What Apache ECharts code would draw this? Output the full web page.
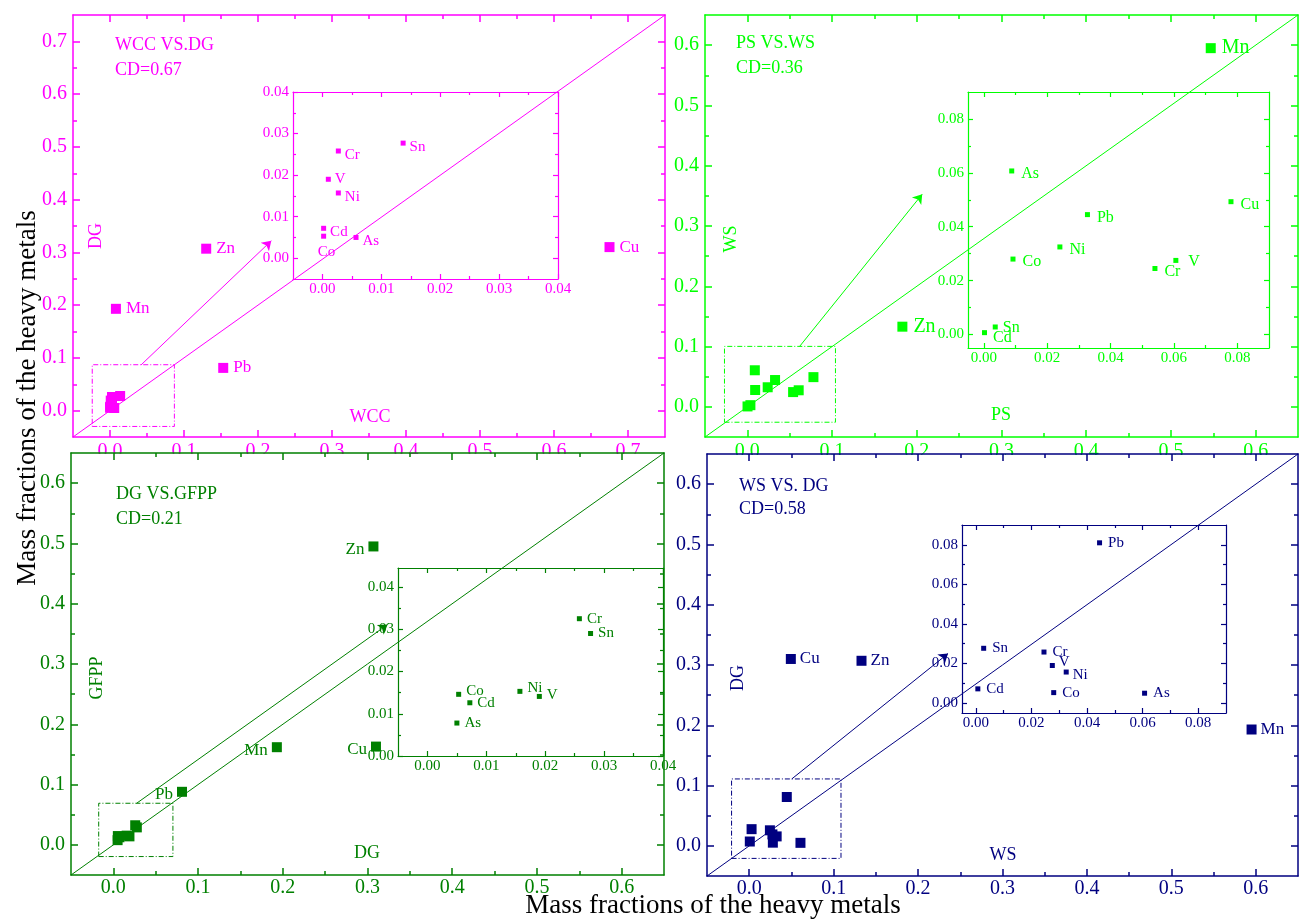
<!DOCTYPE html>
<html><head><meta charset="utf-8">
<script src="https://cdn.jsdelivr.net/npm/echarts@6/dist/echarts.min.js"></script>
<style>html,body{margin:0;padding:0;background:#fff}#c{width:1299px;height:920px}</style>
</head><body><div id="c"></div>
<script>
// ---------------- data ----------------
const elements = ['Cu', 'Zn', 'Mn', 'Pb', 'Cr', 'Ni', 'V', 'Co', 'Cd', 'As', 'Sn'];
const WCC  = [0.675, 0.130, 0.008, 0.153, 0.0027, 0.0027, 0.0010, 0.0002, 0.0002, 0.0057, 0.0137];
const DG   = [0.310, 0.307, 0.193, 0.081, 0.0258, 0.0157, 0.0190, 0.0053, 0.0072, 0.0050, 0.0277];
const PS   = [0.078, 0.183, 0.547, 0.0327, 0.0540, 0.0240, 0.0606, 0.0092, 0.0002, 0.0088, 0.0036];
const WS   = [0.0493, 0.133, 0.595, 0.0445, 0.0245, 0.0325, 0.0275, 0.0280, 0.0007, 0.0607, 0.0028];
const GFPP = [0.163, 0.495, 0.162, 0.088, 0.0325, 0.0153, 0.0141, 0.0146, 0.0126, 0.0078, 0.0290];

const panelTitles = ['WCC VS.DG', 'PS VS.WS', 'DG VS.GFPP', 'WS VS. DG'];
const cdValues = ['CD=0.67', 'CD=0.36', 'CD=0.21', 'CD=0.58'];
const xNames = ['WCC', 'PS', 'DG', 'WS'];
const yNames = ['DG', 'WS', 'GFPP', 'DG'];
const commonTitle = 'Mass fractions of the heavy metals';

const mainTicks07 = [0, 0.1, 0.2, 0.3, 0.4, 0.5, 0.6, 0.7];
const mainLabels07 = ['0.0', '0.1', '0.2', '0.3', '0.4', '0.5', '0.6', '0.7'];
const mainMinors07 = [0.05, 0.15, 0.25, 0.35, 0.45, 0.55, 0.65];
const mainTicks06 = [0, 0.1, 0.2, 0.3, 0.4, 0.5, 0.6];
const mainLabels06 = ['0.0', '0.1', '0.2', '0.3', '0.4', '0.5', '0.6'];
const mainMinors06 = [0.05, 0.15, 0.25, 0.35, 0.45, 0.55];
const insetTicks04 = [0, 0.01, 0.02, 0.03, 0.04];
const insetLabels04 = ['0.00', '0.01', '0.02', '0.03', '0.04'];
const insetMinors04 = [0.005, 0.015, 0.025, 0.035];
const insetTicks08 = [0, 0.02, 0.04, 0.06, 0.08];
const insetLabels08 = ['0.00', '0.02', '0.04', '0.06', '0.08'];
const insetMinors08 = [0.01, 0.03, 0.05, 0.07];

// ---------------- layout / style ----------------
const FONT = '"Liberation Serif", "Times New Roman", serif';
const T07 = {majors: mainTicks07, labels: mainLabels07, minors: mainMinors07};
const T06 = {majors: mainTicks06, labels: mainLabels06, minors: mainMinors06};
const I04 = {majors: insetTicks04, labels: insetLabels04, minors: insetMinors04};
const I08 = {majors: insetTicks08, labels: insetLabels08, minors: insetMinors08};

const panels = [
  { xs: WCC, ys: DG, color: '#ff00ff', z: 0, xm: 5,
    grid: {left: 73, top: 15, width: 592, height: 422}, xr: [-0.05, 0.75], yr: [-0.05, 0.75], xt: T07, yt: T07,
    inset: {grid: {left: 293, top: 92, width: 265, height: 187}, xr: [-0.005, 0.04], yr: [-0.005, 0.04], xt: I04, yt: I04},
    box: [[-0.024, -0.030], [0.087, 0.087]], arrow: [[0.042, 0.0867], [0.218, 0.322]],
    mainFs: 17, insetFs: 15, mainSize: 10,
    mainLabel: {position: 'right', distance: 5},
    insetLabel: {position: 'right', distance: 4, offset: [0, 4]},
    insetOverride: {V: {offset: [0, 0]}, Co: {position: 'bottom', distance: 6, offset: [3, 0]}},
    text: {title: [115, 45.5], cd: [115, 70], yName: [96, 236], xName: [370, 417]} },
  { xs: PS, ys: WS, color: '#00ff00', z: 0, xm: 5,
    grid: {left: 705, top: 15, width: 593, height: 422}, xr: [-0.05, 0.65], yr: [-0.05, 0.65], xt: T06, yt: T06,
    inset: {grid: {left: 968, top: 92, width: 301, height: 256}, xr: [-0.005, 0.09], yr: [-0.005, 0.09], xt: I08, yt: I08},
    box: [[-0.027, -0.0255], [0.104, 0.1003]], arrow: [[0.0617, 0.1003], [0.2064, 0.3527]],
    mainFs: 20, insetFs: 16, mainSize: 10,
    mainLabel: {position: 'right', distance: 6},
    insetLabel: {position: 'right', distance: 7, offset: [0, 3]},
    insetOverride: {V: {distance: 10, offset: [0, 1]}, Sn: {distance: 5, offset: [0, 1]}, Cd: {distance: 6, offset: [0, 5]}},
    text: {title: [736, 43.5], cd: [736, 68], yName: [731, 239], xName: [1001, 415]} },
  { xs: DG, ys: GFPP, color: '#008000', z: 10, xm: 3,
    grid: {left: 71, top: 453, width: 593, height: 422}, xr: [-0.05, 0.65], yr: [-0.05, 0.65], xt: T06, yt: T06,
    inset: {grid: {left: 398, top: 568, width: 265, height: 188}, xr: [-0.005, 0.04], yr: [0, 0.0445], xt: I04, yt: I04},
    box: [[-0.0173, -0.0194], [0.0703, 0.069]], arrow: [[0.0275, 0.069], [0.3237, 0.3654]],
    mainFs: 17, insetFs: 15, mainSize: 10,
    mainLabel: {position: 'left', distance: 4, offset: [0, 3]},
    insetLabel: {position: 'right', distance: 5, offset: [0, 0]},
    insetOverride: {Co: {offset: [0, -3]}, Ni: {offset: [0, -3]}, V: {offset: [0, -1]}},
    text: {title: [116, 494], cd: [116, 519], yName: [97, 678], xName: [367, 853]} },
  { xs: WS, ys: DG, color: '#000080', z: 10, xm: 3,
    grid: {left: 707, top: 454, width: 591, height: 422}, xr: [-0.05, 0.65], yr: [-0.05, 0.65], xt: T06, yt: T06,
    inset: {grid: {left: 962, top: 525, width: 264, height: 188}, xr: [-0.005, 0.09], yr: [-0.005, 0.09], xt: I08, yt: I08},
    box: [[-0.0209, -0.0208], [0.1087, 0.111]], arrow: [[0.0504, 0.111], [0.2355, 0.319]],
    mainFs: 17, insetFs: 15, mainSize: 10,
    mainLabel: {position: 'right', distance: 4},
    insetLabel: {position: 'right', distance: 6},
    insetOverride: {V: {distance: 4, offset: [0, -3]}, Ni: {distance: 4, offset: [0, 3]}},
    text: {title: [739, 486], cd: [739, 509], yName: [738, 678], xName: [1003, 855]} }
];

const grids = [], xAxes = [], yAxes = [], series = [], graphics = [];

function addAxes(gi, xr, yr, xt, yt, color, o) {
  const fmt = (t) => (v) => { const i = t.majors.findIndex(m => Math.abs(m - v) < 1e-9); return i >= 0 ? t.labels[i] : ''; };
  const base = (r) => ({gridIndex: gi, type: 'value', min: r[0], max: r[1], splitLine: {show: false}, z: o.z, silent: true, axisPointer: {show: false}});
  const line = {show: true, onZero: false, lineStyle: {color: color, width: o.lw}};
  const noLine = {show: false, onZero: false};
  const tick = (vals, len) => ({show: true, inside: true, length: len, customValues: vals, lineStyle: {color: color, width: o.lw}});
  const lbl = (t, m) => ({show: true, customValues: t.majors, formatter: fmt(t), color: color, fontSize: o.fs, fontFamily: FONT, margin: m});
  const off = {show: false};
  [['bottom', 'top', xr, xt, xAxes, o.xm], ['left', 'right', yr, yt, yAxes, o.ym]].forEach(([p1, p2, r, t, arr, m]) => {
    arr.push(Object.assign(base(r), {position: p1, axisLine: line, axisTick: tick(t.majors, o.maj), axisLabel: lbl(t, m)}));
    arr.push(Object.assign(base(r), {position: p1, axisLine: noLine, axisTick: tick(t.minors, o.min), axisLabel: off}));
    arr.push(Object.assign(base(r), {position: p2, axisLine: line, axisTick: tick(t.majors, o.maj), axisLabel: off}));
    arr.push(Object.assign(base(r), {position: p2, axisLine: noLine, axisTick: tick(t.minors, o.min), axisLabel: off}));
  });
}

function txt(x, y, s, color, size, rot) {
  return {type: 'text', x: x, y: y, rotation: rot || 0, z: 20, silent: true,
    style: {text: s, fill: color, font: size + 'px ' + FONT, align: rot === undefined ? 'left' : 'center', verticalAlign: 'middle',
            textAlign: rot === undefined ? 'left' : 'center', textVerticalAlign: 'middle'}};
}

panels.forEach((p, k) => {
  const gMain = 2 * k, gIn = 2 * k + 1;
  grids.push(Object.assign({outerBoundsMode: 'none', containLabel: false}, p.grid));
  grids.push(Object.assign({outerBoundsMode: 'none', containLabel: false}, p.inset.grid));
  addAxes(gMain, p.xr, p.yr, p.xt, p.yt, p.color, {z: p.z, lw: 1.5, fs: 20, maj: 7, min: 4, xm: p.xm, ym: 6});
  addAxes(gIn, p.inset.xr, p.inset.yr, p.inset.xt, p.inset.yt, p.color, {z: p.z, lw: 1.2, fs: 15, maj: 5, min: 3, xm: 3, ym: 4});
  const ax = 4 * gMain, axIn = 4 * gIn;
  const inInset = (i) => p.xs[i] <= p.inset.xr[1] && p.ys[i] <= p.inset.yr[1];

  // diagonal y = x
  series.push({type: 'line', xAxisIndex: ax, yAxisIndex: ax, data: [[p.xr[0], p.yr[0]], [p.xr[1], p.yr[1]]],
    symbol: 'none', lineStyle: {color: p.color, width: 1}, z: 12, silent: true});
  // dash-dot box
  const b = p.box;
  series.push({type: 'line', xAxisIndex: ax, yAxisIndex: ax,
    data: [[b[0][0], b[0][1]], [b[1][0], b[0][1]], [b[1][0], b[1][1]], [b[0][0], b[1][1]], [b[0][0], b[0][1]]],
    symbol: 'none', lineStyle: {color: p.color, width: 1, type: [5, 2, 1, 2]}, z: 12, silent: true});
  // arrow
  series.push({type: 'lines', coordinateSystem: 'cartesian2d', xAxisIndex: ax, yAxisIndex: ax,
    data: [{coords: p.arrow}], symbol: ['none', 'arrow'], symbolSize: 9,
    lineStyle: {color: p.color, width: 1, opacity: 1}, z: 12, silent: true});
  // main scatter
  series.push({type: 'scatter', xAxisIndex: ax, yAxisIndex: ax, symbol: 'rect', symbolSize: p.mainSize, z: 13,
    itemStyle: {color: p.color, opacity: 1},
    label: Object.assign({show: true, formatter: '{b}', color: p.color, fontSize: p.mainFs, fontFamily: FONT}, p.mainLabel),
    data: elements.map((e, i) => ({name: e, value: [p.xs[i], p.ys[i]], label: {show: !inInset(i)}}))});
  // inset scatter
  series.push({type: 'scatter', xAxisIndex: axIn, yAxisIndex: axIn, symbol: 'rect', symbolSize: 5, z: 13,
    itemStyle: {color: p.color, opacity: 1},
    label: Object.assign({show: true, formatter: '{b}', color: p.color, fontSize: p.insetFs, fontFamily: FONT}, p.insetLabel),
    data: elements.map((e, i) => ({name: e, value: [p.xs[i], p.ys[i]], i: i})).filter(d => inInset(d.i))
      .map(d => ({name: d.name, value: d.value, label: Object.assign({show: true}, p.insetOverride[d.name] || {})}))});

  graphics.push(txt(p.text.title[0], p.text.title[1], panelTitles[k], p.color, 18));
  graphics.push(txt(p.text.cd[0], p.text.cd[1], cdValues[k], p.color, 18));
  graphics.push(txt(p.text.yName[0], p.text.yName[1], yNames[k], p.color, 18, Math.PI / 2));
  graphics.push(txt(p.text.xName[0], p.text.xName[1], xNames[k], p.color, 18, 0));
});

// white masks: the lower panels hide the lower part of the upper panels' tick labels
graphics.push({type: 'rect', z: 5, silent: true, shape: {x: 60, y: 454, width: 610, height: 14}, style: {fill: '#fff'}});
graphics.push({type: 'rect', z: 5, silent: true, shape: {x: 700, y: 455, width: 599, height: 14}, style: {fill: '#fff'}});

graphics.push(txt(28, 398, commonTitle, '#000', 27, Math.PI / 2));
graphics.push(txt(713, 906, commonTitle, '#000', 27, 0));

const chart = echarts.init(document.getElementById('c'), null, {renderer: 'canvas'});
chart.setOption({
  animation: false,
  backgroundColor: '#fff',
  grid: grids, xAxis: xAxes, yAxis: yAxes, series: series,
  graphic: {elements: graphics}
});
</script>
</body></html>
